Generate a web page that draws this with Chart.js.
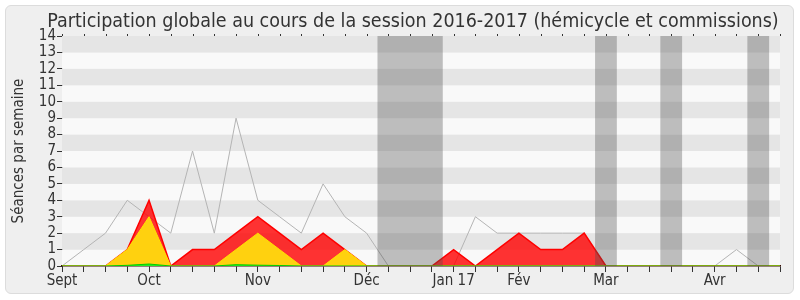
<!DOCTYPE html>
<html>
<head>
<meta charset="utf-8">
<script src="https://cdn.jsdelivr.net/npm/chart.js@4"></script>
<style>
  body { margin: 0; background: #fff; }
  #wrap { position: relative; width: 800px; height: 300px; }
  #frame { position: absolute; left: 5px; top: 5px; width: 787px; height: 287px;
           background: #efefef; border: 1px solid #dcdcdc; border-radius: 6px; }
  #chart { position: absolute; left: 0; top: 0; }
</style>
</head>
<body>
<div id="wrap">
  <div id="frame"></div>
  <canvas id="chart" width="800" height="300"></canvas>
</div>
<script>
const titleText = 'Participation globale au cours de la session 2016-2017 (hémicycle et commissions)';
const yTitle = 'Séances par semaine';

// one entry per week, month name on the first week of the month
const weekLabels = ['Sept','','','','Oct','','','','','Nov','','','','','Déc','','','',
    'Jan 17','','','Fév','','','','Mar','','','','','Avr','','',''];

const mediane = [0,1,2,4,3,2,7,2,9,4,3,2,5,3,2,0,0,0,0,3,2,2,2,2,2,0,0,0,0,0,0,1,0,0];
const presences = [0,0,0,1,4,0,1,1,2,3,2,1,2,1,0,0,0,0,1,0,1,2,1,1,2,0,0,0,0,0,0,0,0,0];
const participations = [0,0,0,1,3,0,0,0,1,2,1,0,0,1,0,0,0,0,0,0,0,0,0,0,0,0,0,0,0,0,0,0,0,0];
const questions = [0,0,0,0.04,0.12,0,0,0,0.08,0.05,0.03,0,0,0,0,0,0,0,0,0,0,0,0,0,0,0,0,0,0,0,0,0,0,0];

// holidays (in week index units)
const vacStart = [14.5, 24.5, 27.5, 31.5];
const vacEnd = [17.5, 25.5, 28.5, 32.5];

const FONT = '"DejaVu Sans Condensed", "DejaVu Sans", sans-serif';
const TXT = '#333';

const backdrop = {
    id: 'backdrop',
    beforeDatasetsDraw(chart) {
        const { ctx, chartArea: a, scales: { y } } = chart;
        ctx.save();
        for (let v = 0; v < 14; v++) {
            const y0 = y.getPixelForValue(v + 1), y1 = y.getPixelForValue(v);
            ctx.fillStyle = v % 2 ? '#e5e5e5' : '#f9f9f9';
            ctx.fillRect(a.left, y0, a.right - a.left, y1 - y0);
        }
        ctx.restore();
    },
    afterDatasetsDraw(chart) {
        const { ctx, chartArea: a, scales: { x } } = chart;
        ctx.save();
        ctx.fillStyle = 'rgba(78,78,78,0.35)';
        vacStart.forEach((s, i) => {
            const x0 = x.getPixelForValue(s), x1 = x.getPixelForValue(vacEnd[i]);
            ctx.fillRect(x0, a.top, x1 - x0, a.bottom - a.top);
        });
        // little ticks on top edge
        ctx.strokeStyle = '#333';
        ctx.lineWidth = 1;
        ctx.beginPath();
        weekLabels.forEach((_, i) => {
            const px = Math.round(x.getPixelForValue(i)) + 0.5;
            ctx.moveTo(px, a.top - 2);
            ctx.lineTo(px, a.top);
        });
        ctx.stroke();
        ctx.restore();
    },
    afterDraw(chart) {
        const { ctx } = chart;
        ctx.save();
        ctx.font = '19.5px ' + FONT;
        ctx.fillStyle = TXT;
        ctx.textAlign = 'center';
        ctx.textBaseline = 'alphabetic';
        ctx.fillText(titleText, 413, 27);
        ctx.restore();
    }
};

new Chart(document.getElementById('chart'), {
    type: 'line',
    data: {
        labels: weekLabels,
        datasets: [
            { data: questions, fill: 'origin', backgroundColor: '#22ee22', borderColor: '#00cc00', borderWidth: 1 },
            { data: participations, fill: 'origin', backgroundColor: '#ffd10f', borderColor: '#ffe000', borderWidth: 1 },
            { data: presences, fill: 'origin', backgroundColor: 'rgba(255,0,0,0.8)', borderColor: '#ff0000', borderWidth: 1.5 },
            { data: mediane, fill: false, borderColor: '#b4b4b4', borderWidth: 1 }
        ]
    },
    options: {
        responsive: false,
        animation: false,
        events: [],
        layout: { padding: { top: 36, right: 20, left: 0, bottom: 0 } },
        elements: { point: { radius: 0 }, line: { tension: 0 } },
        plugins: { legend: { display: false }, tooltip: { enabled: false }, title: { display: false } },
        scales: {
            x: {
                afterFit: s => { s.height = 34; },
                grid: { drawOnChartArea: false, drawTicks: true, tickLength: 6, color: '#333' },
                border: { color: '#3a1008', width: 1.5 },
                ticks: { autoSkip: false, maxRotation: 0, padding: 0, color: TXT, font: { family: FONT, size: 15 } }
            },
            y: {
                min: 0, max: 14,
                afterFit: s => { s.width = 62; },
                grid: { drawOnChartArea: false, drawTicks: true, tickLength: 5, color: '#333' },
                border: { color: '#333' },
                ticks: { stepSize: 1, autoSkip: false, padding: 1, color: TXT, font: { family: FONT, size: 15 } },
                title: { display: true, text: yTitle, color: TXT, padding: { top: 10, bottom: 0 }, font: { family: FONT, size: 15 } }
            }
        }
    },
    plugins: [backdrop]
});
</script>
</body>
</html>
